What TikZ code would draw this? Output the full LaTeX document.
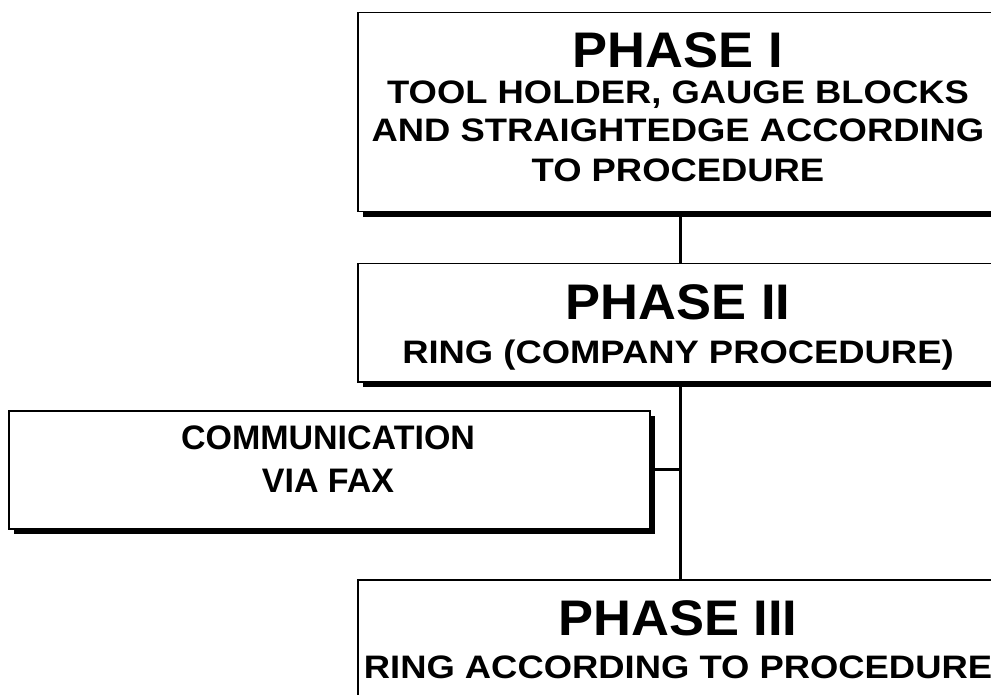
\documentclass[tikz,border=0pt]{standalone}
\usepackage{fontspec}
\setmainfont{Liberation Sans}
\newfontfamily\titlefont[FakeStretch=1.05]{Liberation Sans}
\newfontfamily\subfont[FakeStretch=1.12]{Liberation Sans}
\begin{document}
\begin{tikzpicture}[x=1pt,y=-1pt,
  box/.style={draw=black, line width=1.5pt, fill=white, inner sep=0pt, anchor=north west,
    preaction={fill=black, transform canvas={xshift=5pt,yshift=-5pt}}},
  titletext/.style={anchor=base, inner sep=0pt, font=\titlefont\bfseries\fontsize{50}{50}\selectfont},
  subtext/.style={anchor=base, inner sep=0pt, font=\subfont\bfseries\fontsize{32.5}{32.5}\selectfont},
  faxtext/.style={anchor=base, inner sep=0pt, font=\bfseries\fontsize{34}{34}\selectfont},
  conn/.style={draw=black, line width=3pt}]
\useasboundingbox (0,0) rectangle (991,695);
% boxes
\node[box, minimum width=646pt, minimum height=199pt] (b1) at (357,12) {};
\node[box, minimum width=646pt, minimum height=118pt] (b2) at (357,263) {};
\node[box, minimum width=641pt, minimum height=118pt] (fax) at (8,410) {};
\node[box, minimum width=646pt, minimum height=150pt] (b3) at (357,579) {};
% connectors
\draw[conn] (b1.south) -- (b2.north);
\draw[conn] (b2.south) -- (b3.north);
\draw[conn] (fax.east) -- (fax.east -| b2.south);
% texts
\node[titletext] (t1) at (678,68) {PHASE I};
\node[subtext] (s1a) at (678,104) {TOOL HOLDER, GAUGE BLOCKS};
\node[subtext] (s1b) at (678,142) {AND STRAIGHTEDGE ACCORDING};
\node[subtext] (s1c) at (678,182) {TO PROCEDURE};
\node[titletext] (t2) at (678,319) {PHASE II};
\node[subtext] (s2) at (678,363) {RING (COMPANY PROCEDURE)};
\node[faxtext] (f1) at (328,449) {COMMUNICATION};
\node[faxtext] (f2) at (328,492) {VIA FAX};
\node[titletext] (t3) at (678,635) {PHASE III};
\node[subtext] (s3) at (678,678) {RING ACCORDING TO PROCEDURE};
\end{tikzpicture}
\end{document}
